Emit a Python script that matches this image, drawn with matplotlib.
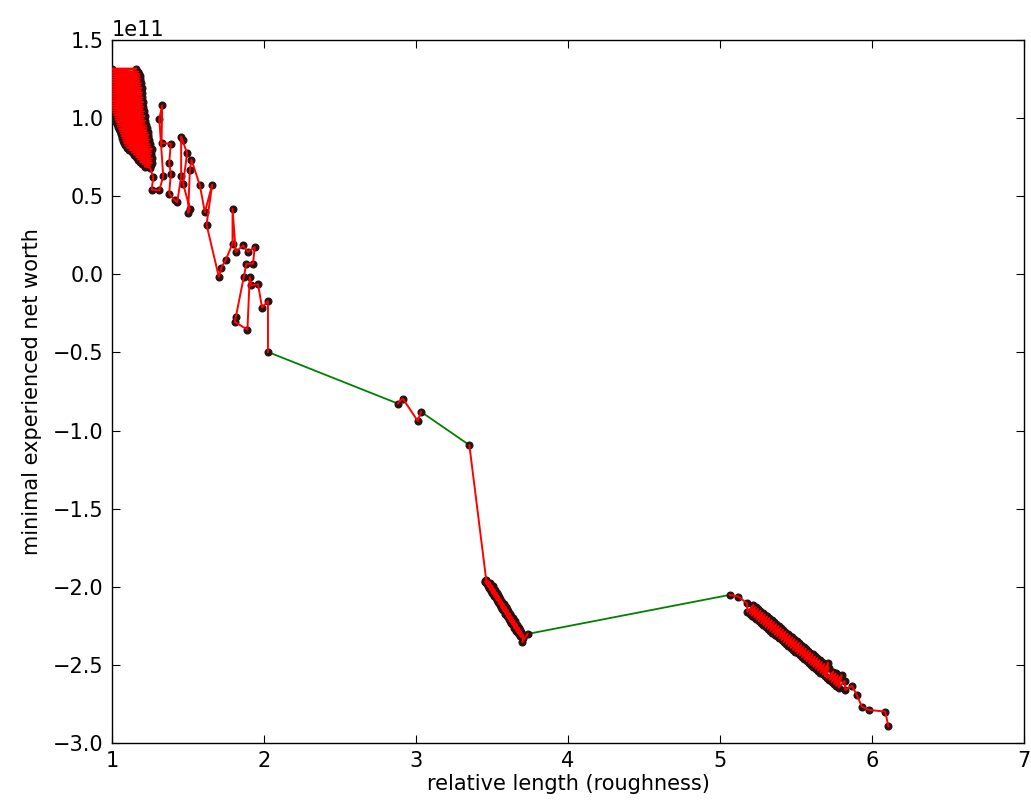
import matplotlib
matplotlib.use("Agg")
import matplotlib.pyplot as plt

# ---- data (y in units of 1e11) ----
# run A: dense fan at top-left, then scattered descent
runA_x = [1.000, 1.160, 1.003, 1.172, 1.000, 1.178, 1.006, 1.182, 1.000, 1.186,
          1.004, 1.182, 1.000, 1.190, 1.006, 1.186, 1.000, 1.195, 1.005, 1.190,
          1.000, 1.198, 1.006, 1.193, 1.000, 1.200, 1.005, 1.196, 1.000, 1.204,
          1.006, 1.198, 1.002, 1.206, 1.006, 1.200, 1.005, 1.210, 1.010, 1.204,
          1.015, 1.214, 1.020, 1.207, 1.023, 1.218, 1.028, 1.212, 1.035, 1.222,
          1.040, 1.228, 1.046, 1.226, 1.052, 1.234, 1.058, 1.240, 1.063, 1.236,
          1.068, 1.244, 1.074, 1.240, 1.080, 1.248, 1.087, 1.250, 1.100, 1.262,
          1.115, 1.255, 1.130, 1.258, 1.145, 1.252, 1.160, 1.262, 1.170, 1.256,
          1.185, 1.262, 1.200, 1.255, 1.215, 1.250,
          1.271, 1.261, 1.311, 1.337, 1.311, 1.330, 1.326, 1.387, 1.376, 1.387,
          1.376, 1.414, 1.429, 1.455, 1.455, 1.464, 1.494, 1.468, 1.512, 1.501,
          1.512, 1.523, 1.578, 1.611, 1.659, 1.622, 1.703, 1.720, 1.747, 1.793,
          1.793, 1.814, 1.862, 1.895, 1.939, 1.928, 1.884, 1.867, 1.814, 1.808,
          1.891, 1.906, 1.917, 1.961, 1.987, 2.026, 2.026]
runA_y = [1.317, 1.317, 1.305, 1.298, 1.290, 1.283, 1.275, 1.268, 1.260, 1.253,
          1.245, 1.238, 1.230, 1.223, 1.215, 1.208, 1.200, 1.193, 1.185, 1.178,
          1.170, 1.163, 1.155, 1.148, 1.140, 1.133, 1.125, 1.118, 1.110, 1.103,
          1.095, 1.088, 1.080, 1.073, 1.065, 1.058, 1.050, 1.043, 1.035, 1.028,
          1.020, 1.013, 1.005, 0.998, 0.990, 0.983, 0.975, 0.968, 0.960, 0.953,
          0.945, 0.938, 0.930, 0.923, 0.915, 0.908, 0.900, 0.893, 0.885, 0.878,
          0.870, 0.863, 0.855, 0.848, 0.840, 0.833, 0.825, 0.818, 0.810, 0.803,
          0.795, 0.788, 0.780, 0.773, 0.765, 0.758, 0.750, 0.743, 0.735, 0.728,
          0.720, 0.713, 0.705, 0.698, 0.690, 0.683,
          0.622, 0.542, 0.537, 0.627, 0.996, 1.081, 0.840, 0.836, 0.712, 0.644,
          0.516, 0.473, 0.462, 0.627, 0.882, 0.857, 0.776, 0.580, 0.420, 0.392,
          0.665, 0.733, 0.569, 0.398, 0.574, 0.318, -0.017, 0.043, 0.090, 0.196,
          0.420, 0.143, 0.185, 0.143, 0.175, 0.068, 0.068, -0.017, -0.273, -0.305,
          -0.354, -0.017, -0.070, -0.064, -0.213, -0.171, -0.497]

runB_x = [2.880, 2.913, 3.011, 3.033]
runB_y = [-0.827, -0.795, -0.938, -0.880]

runC_x = [3.351, 3.462, 3.489, 3.455, 3.493, 3.457, 3.504, 3.467, 3.508, 3.471,
          3.518, 3.482, 3.523, 3.486, 3.533, 3.496, 3.537, 3.500, 3.547, 3.511,
          3.552, 3.515, 3.562, 3.525, 3.566, 3.530, 3.577, 3.540, 3.581, 3.544,
          3.591, 3.555, 3.596, 3.559, 3.606, 3.569, 3.610, 3.573, 3.620, 3.584,
          3.625, 3.588, 3.635, 3.598, 3.639, 3.603, 3.650, 3.613, 3.654, 3.617,
          3.664, 3.627, 3.668, 3.632, 3.679, 3.642, 3.683, 3.646, 3.693, 3.657,
          3.698, 3.661, 3.705, 3.671, 3.705, 3.685, 3.705, 3.700, 3.734]
runC_y = [-1.093, -1.957, -1.976, -1.964, -1.987, -1.972, -1.998, -1.983, -2.009, -1.994,
          -2.020, -2.005, -2.032, -2.017, -2.043, -2.028, -2.054, -2.039, -2.065, -2.050,
          -2.076, -2.061, -2.088, -2.073, -2.099, -2.084, -2.110, -2.095, -2.121, -2.106,
          -2.132, -2.117, -2.144, -2.129, -2.155, -2.140, -2.166, -2.151, -2.177, -2.162,
          -2.188, -2.173, -2.199, -2.185, -2.211, -2.196, -2.222, -2.207, -2.233, -2.218,
          -2.244, -2.229, -2.255, -2.240, -2.267, -2.252, -2.278, -2.263, -2.289, -2.274,
          -2.300, -2.285, -2.311, -2.296, -2.323, -2.315, -2.330, -2.355, -2.302]

runD_x = [5.064, 5.121, 5.178,
          5.180, 5.220, 5.195, 5.235, 5.210, 5.250, 5.225, 5.265, 5.240, 5.280,
          5.255, 5.295, 5.270, 5.310, 5.285, 5.325, 5.300, 5.340, 5.315, 5.355,
          5.330, 5.370, 5.345, 5.385, 5.360, 5.400, 5.375, 5.415, 5.390, 5.430,
          5.405, 5.445, 5.420, 5.460, 5.435, 5.475, 5.450, 5.490, 5.465, 5.505,
          5.480, 5.520, 5.495, 5.535, 5.510, 5.550, 5.525, 5.565, 5.540, 5.580,
          5.555, 5.595, 5.570, 5.610, 5.585, 5.625, 5.600, 5.640, 5.615, 5.655,
          5.630, 5.670, 5.645, 5.685, 5.660, 5.700, 5.675, 5.715, 5.690, 5.710,
          5.705, 5.745, 5.720, 5.760, 5.735, 5.775, 5.750, 5.790, 5.765, 5.800,
          5.780, 5.820, 5.824, 5.868, 5.900, 5.933, 5.977, 6.087, 6.108]
runD_y = [-2.052, -2.063, -2.106,
          -2.160, -2.117, -2.172, -2.130, -2.184, -2.142, -2.196, -2.154, -2.209, -2.166,
          -2.221, -2.178, -2.233, -2.190, -2.245, -2.202, -2.257, -2.215, -2.269, -2.227,
          -2.282, -2.239, -2.294, -2.251, -2.306, -2.263, -2.318, -2.275, -2.330, -2.287,
          -2.342, -2.300, -2.354, -2.312, -2.367, -2.324, -2.379, -2.336, -2.391, -2.348,
          -2.403, -2.360, -2.415, -2.373, -2.427, -2.385, -2.439, -2.397, -2.452, -2.409,
          -2.464, -2.421, -2.476, -2.433, -2.488, -2.446, -2.500, -2.458, -2.512, -2.470,
          -2.525, -2.482, -2.537, -2.494, -2.549, -2.506, -2.561, -2.518, -2.573, -2.485,
          -2.585, -2.543, -2.597, -2.555, -2.610, -2.567, -2.622, -2.579, -2.634, -2.565,
          -2.646, -2.603, -2.660, -2.634, -2.692, -2.767, -2.788, -2.799, -2.894]

SCALE = 1e11
runs = [(runA_x, runA_y), (runB_x, runB_y), (runC_x, runC_y), (runD_x, runD_y)]

plt.rcParams['font.family'] = ['DejaVu Sans']
fig = plt.figure(figsize=(10.31, 8.07), dpi=100)
ax = fig.add_axes([112/1031, 64/807, 912/1031, 703/807])

red = (1.0, 0.0, 0.0)
green = (0.0, 0.5, 0.0)
dot = (0.15, 0.08, 0.08)

# green connections between runs
for (xa, ya), (xb, yb) in zip(runs[:-1], runs[1:]):
    ax.plot([xa[-1], xb[0]], [ya[-1] * SCALE, yb[0] * SCALE], color=green, lw=1.3, zorder=2)

for xs, ys in runs:
    yv = [v * SCALE for v in ys]
    ax.plot(xs, yv, linestyle='none', marker='o', ms=4.8, mfc=dot, mec=dot, zorder=3)
    ax.plot(xs, yv, color=red, lw=1.4, zorder=4)

ax.set_xlim(1, 7)
ax.set_ylim(-3.0e11, 1.5e11)
ax.set_xticks([1, 2, 3, 4, 5, 6, 7])
ax.set_yticks([v * 1e11 for v in [-3.0, -2.5, -2.0, -1.5, -1.0, -0.5, 0.0, 0.5, 1.0, 1.5]])
ax.tick_params(direction='in', top=True, right=True, length=6, width=0.8, labelsize=15, pad=6)
ax.yaxis.get_offset_text().set_fontsize(15)
for s in ax.spines.values():
    s.set_linewidth(1.0)

ax.set_xlabel('relative length (roughness)', fontsize=15, labelpad=2)
ax.set_ylabel('minimal experienced net worth', fontsize=15, labelpad=8)

fig.savefig('out.png', dpi=100)
